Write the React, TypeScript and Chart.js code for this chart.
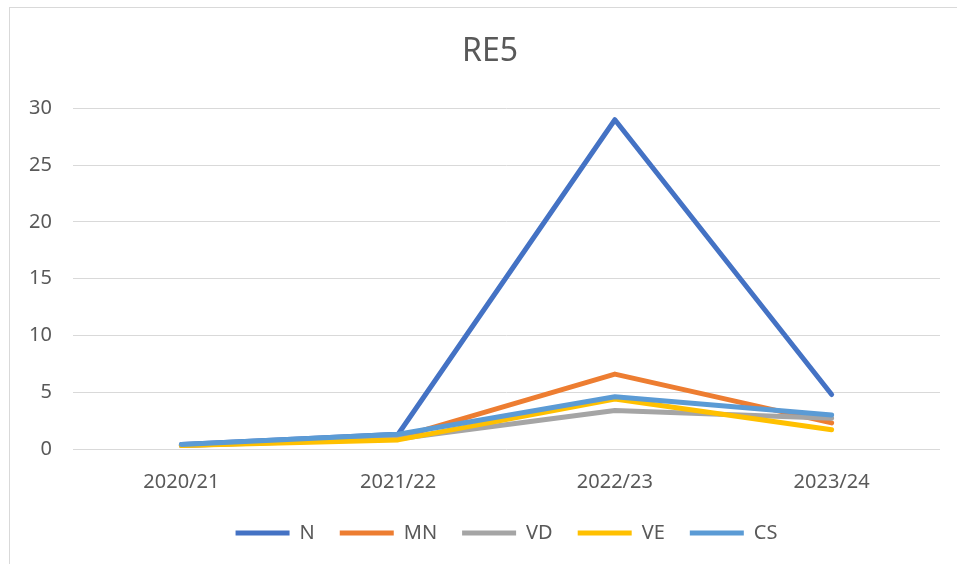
import React, { useEffect, useRef } from "react";
import { Chart, registerables } from "chart.js";

Chart.register(...registerables);

const categories = ["2020/21", "2021/22", "2022/23", "2023/24"];
const seriesN = [0.4, 1.3, 29, 4.8];
const seriesMN = [0.3, 1.0, 6.6, 2.3];
const seriesVD = [0.3, 0.9, 3.4, 2.7];
const seriesVE = [0.3, 0.8, 4.4, 1.7];
const seriesCS = [0.4, 1.3, 4.6, 3.0];
const yTicks = [0, 5, 10, 15, 20, 25, 30];

const FONT = "'Noto Sans', 'Open Sans', sans-serif";
const TEXT = "#595959";

export default function App() {
  const ref = useRef<HTMLCanvasElement | null>(null);

  useEffect(() => {
    if (!ref.current) return;
    const mk = (label: string, data: number[], color: string, order: number) => ({
      label,
      data,
      borderColor: color,
      backgroundColor: color,
      borderWidth: 5,
      borderCapStyle: "round" as const,
      borderJoinStyle: "round" as const,
      pointRadius: 0,
      pointHoverRadius: 0,
      tension: 0,
      order,
      yAxisID: "y",
    });
    const chart = new Chart(ref.current, {
      type: "line",
      data: {
        labels: categories,
        datasets: [
          mk("N", seriesN, "#4472C4", 4),
          mk("MN", seriesMN, "#ED7D31", 3),
          mk("VD", seriesVD, "#A5A5A5", 2),
          mk("VE", seriesVE, "#FFC000", 1),
          mk("CS", seriesCS, "#5B9BD5", 0),
        ],
      },
      options: {
        animation: false,
        responsive: false,
        maintainAspectRatio: false,
        layout: { padding: { left: 0, right: 0, top: 0, bottom: 11 } },
        plugins: {
          title: {
            display: true,
            text: "RE5",
            color: TEXT,
            font: { family: FONT, size: 32, weight: "normal" },
            padding: { top: 33, bottom: 37 },
          },
          legend: {
            position: "bottom",
            fullSize: false,
            labels: {
              color: TEXT,
              font: { family: FONT, size: 20 },
              usePointStyle: true,
              pointStyle: "line",
              pointStyleWidth: 54,
              padding: 25,
              sort: (a: any, b: any) => a.datasetIndex - b.datasetIndex,
            },
          },
          tooltip: { enabled: false },
        },
        scales: {
          x: {
            offset: true,
            grid: { display: false, drawTicks: false },
            border: { display: false },
            ticks: { color: TEXT, font: { family: FONT, size: 20 }, padding: 21 },
            afterFit: (s: any) => {
              s.height = 49;
            },
          },
          y: {
            min: 0,
            max: 30,
            afterBuildTicks: (s: any) => {
              s.ticks = yTicks.map((v) => ({ value: v }));
            },
            grid: { color: "#d9d9d9", lineWidth: 1, drawTicks: false },
            border: { display: false },
            ticks: { color: TEXT, font: { family: FONT, size: 20 }, padding: 21 },
            afterFit: (s: any) => {
              s.width = 63;
            },
          },
          yRight: {
            position: "right",
            display: true,
            grid: { display: false, drawTicks: false },
            border: { display: false },
            ticks: { display: false },
            afterFit: (s: any) => {
              s.width = 30;
            },
          },
        },
      },
    });
    return () => chart.destroy();
  }, []);

  return (
    <div style={{ position: "absolute", left: 0, top: 0, width: 957, height: 564, overflow: "hidden", background: "#fff" }}>
      <div style={{ position: "absolute", left: 9, top: 7, width: 980, height: 600, border: "1px solid #d9d9d9", boxSizing: "border-box" }} />
      <canvas ref={ref} width={960} height={564} style={{ position: "absolute", left: 10, top: 0, width: 960, height: 564 }} />
    </div>
  );
}
